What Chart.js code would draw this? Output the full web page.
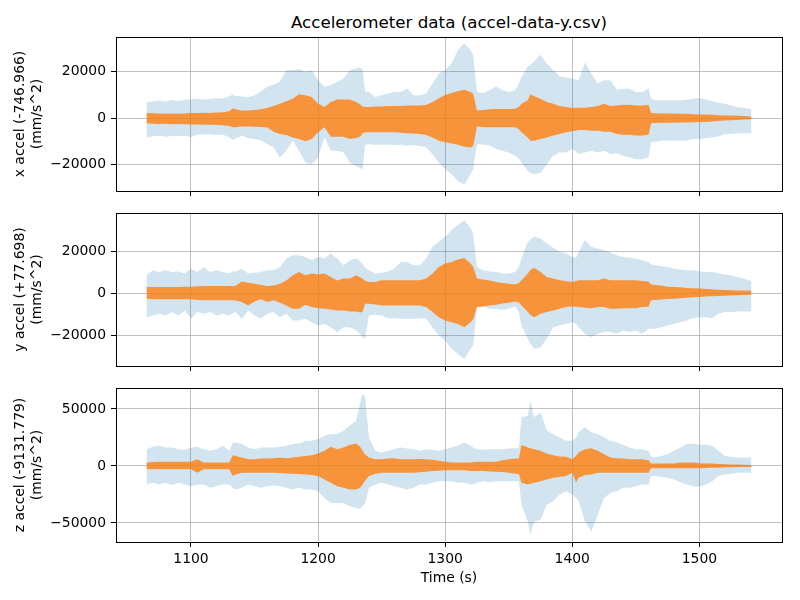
<!DOCTYPE html>
<html lang="en">
<head>
    <meta charset="UTF-8">
    <title>Accelerometer data</title>
    <script src="https://cdn.jsdelivr.net/npm/chart.js"></script>
    <style>
        body { margin: 0; background: #fff; font-family: 'DejaVu Sans', sans-serif; }
        .wrap { position: relative; width: 800px; height: 600px; }
        .wrap canvas { position: absolute; left: 0; top: 0; }
        .main-title {
            position: absolute; left: 116px; width: 666px; top: 12px;
            text-align: center; font-size: 16.7px; line-height: 20px; color: #000;
        }
    </style>
</head>
<body>
<div class="wrap">
    <div class="main-title">Accelerometer data (accel-data-y.csv)</div>
    <canvas id="xChart" width="800" height="600"></canvas>
    <canvas id="yChart" width="800" height="600"></canvas>
    <canvas id="zChart" width="800" height="600"></canvas>
</div>
<script>
// time stamps (s), shared by all three panels
const times = [
    1065, 1070, 1075, 1080, 1085, 1090, 1095, 1100, 1105, 1110,
    1115, 1120, 1125, 1130, 1133, 1135, 1140, 1145, 1150, 1155,
    1160, 1165, 1170, 1175, 1180, 1185, 1190, 1195, 1200, 1205,
    1210, 1215, 1220, 1225, 1230, 1233, 1235, 1237, 1240, 1245,
    1250, 1255, 1260, 1265, 1270, 1275, 1280, 1285, 1290, 1295,
    1300, 1305, 1310, 1315, 1320, 1322, 1325, 1330, 1335, 1340,
    1345, 1350, 1355, 1358, 1360, 1365, 1367, 1370, 1375, 1380,
    1385, 1390, 1395, 1400, 1403, 1405, 1410, 1415, 1420, 1425,
    1430, 1435, 1440, 1445, 1450, 1455, 1460, 1462, 1465, 1470,
    1475, 1480, 1485, 1490, 1495, 1500, 1505, 1510, 1515, 1520,
    1525, 1530, 1535, 1541
];
const timeTicks = [1100, 1200, 1300, 1400, 1500];

// x accel: min/max envelope (blue) and inner band (orange), mm/s^2
const xMaxEnv = [
    7000, 7300, 7600, 7200, 7800, 7400, 7900, 8200, 8400, 8000,
    8300, 8600, 8400, 9500, 10200, 9600, 9300, 9000, 9900, 11500,
    13500, 14500, 15700, 20700, 20700, 21200, 20000, 20700, 16400, 13500,
    14200, 15700, 17100, 20700, 21500, 22000, 21000, 11500, 11300, 9100,
    9900, 10600, 11300, 11300, 12800, 9900, 9900, 10600, 15000, 19300,
    20700, 23600, 29400, 32300, 29400, 27000, 11300, 10900, 12000, 13800,
    12000, 11300, 12000, 15000, 17800, 22200, 23000, 24400, 27300, 23600,
    20700, 18100, 17500, 17100, 16700, 16400, 24000, 19300, 15000, 16400,
    16400, 12300, 12700, 12700, 11300, 11300, 12800, 8400, 7700, 7700,
    7700, 7700, 7700, 7900, 8400, 8700, 8100, 7250, 6700, 6200,
    5500, 4800, 4500, 4000
];
const xMinEnv = [
    -8300, -7800, -7600, -8000, -7700, -7800, -7500, -8200, -7000, -7000,
    -6900, -7300, -7000, -8200, -9500, -8800, -7600, -8500, -9000, -9500,
    -11200, -12600, -17000, -14000, -9700, -14000, -19100, -19900, -17000, -8300,
    -14000, -14000, -14700, -19100, -20600, -21500, -22000, -11500, -11200, -11500,
    -11500, -11500, -11600, -11500, -11900, -11600, -12000, -12500, -15500, -19100,
    -22000, -24200, -27100, -28600, -24200, -22000, -11200, -11300, -11900, -13300,
    -14000, -14800, -16200, -17500, -19100, -22800, -23600, -24200, -23500, -19900,
    -16200, -14800, -14800, -13300, -14500, -15500, -14800, -14000, -14800, -14000,
    -15500, -15200, -16200, -17000, -17700, -17700, -17000, -10400, -10200, -9700,
    -9700, -9700, -9700, -9700, -9000, -9000, -8700, -8300, -7900, -6800,
    -6800, -6500, -6500, -6500
];
const xBandHi = [
    2200, 2100, 2000, 1900, 2000, 1900, 2000, 2200, 2200, 2300,
    2200, 2400, 2600, 3000, 4300, 3800, 3300, 3300, 3500, 3900,
    4350, 5200, 6200, 7300, 8400, 10300, 9900, 9100, 6200, 4800,
    7000, 8100, 8100, 8000, 7000, 6000, 5000, 4800, 4800, 5000,
    5000, 5200, 5300, 5300, 5500, 5500, 5500, 5700, 7000, 8600,
    10000, 10900, 11600, 12300, 11300, 10500, 3300, 3500, 3800, 4000,
    4000, 4000, 4100, 4800, 6200, 7700, 10300, 9400, 8400, 7000,
    6200, 5200, 4800, 4350, 4500, 4500, 4500, 4800, 5200, 6200,
    5200, 5500, 5800, 5800, 5500, 5500, 5800, 2200, 2100, 2000,
    2000, 2000, 1900, 1900, 1700, 1600, 1600, 1500, 1300, 1200,
    1100, 1000, 900, 700
];
const xBandLo = [
    -2200, -2400, -2500, -2400, -2600, -2500, -2600, -2750, -2700, -2800,
    -2800, -2900, -3000, -3400, -3900, -3900, -3600, -3600, -3700, -3800,
    -4000, -5800, -6800, -7250, -8300, -9000, -10000, -9000, -6100, -3900,
    -8000, -8000, -8000, -9000, -8500, -8000, -6500, -6100, -6100, -6100,
    -6100, -6100, -6100, -6300, -6500, -6600, -6800, -7300, -8300, -9700,
    -10400, -10900, -11500, -12300, -12600, -12000, -3600, -3900, -3900, -3900,
    -3900, -3900, -3900, -4800, -6100, -8300, -9700, -9700, -9000, -8300,
    -7500, -6800, -6100, -5650, -5300, -5100, -5100, -5400, -5400, -5800,
    -5800, -6800, -7100, -7200, -7500, -7500, -7200, -2200, -2100, -2000,
    -2000, -2000, -1900, -1900, -1800, -1700, -1600, -1400, -1200, -1000,
    -900, -800, -600, -450
];

// y accel
const yMaxEnv = [
    8450, 10800, 10000, 10800, 10000, 10300, 9250, 11600, 10000, 12400,
    10000, 10800, 10000, 9250, 10300, 10300, 11600, 9250, 9600, 10000,
    10800, 10800, 12400, 16400, 18000, 18000, 17200, 15600, 17200, 16400,
    18800, 16400, 13200, 15600, 16400, 15200, 14000, 12000, 10800, 9250,
    9600, 10300, 11600, 14800, 14800, 13200, 13200, 16400, 22000, 24400,
    26800, 30000, 32400, 34700, 30800, 28000, 12400, 10800, 10300, 10000,
    9250, 9250, 10000, 12500, 16400, 24400, 25500, 26800, 26000, 23600,
    21500, 19600, 18800, 17200, 16800, 19600, 25200, 22000, 21200, 20400,
    19300, 18000, 17200, 16800, 16400, 15600, 14800, 13600, 13200, 12800,
    12400, 11600, 11200, 10800, 10800, 10300, 10000, 10000, 9250, 8800,
    8400, 7650, 6900, 5600
];
const yMinEnv = [
    -11500, -10700, -9900, -10700, -9100, -10700, -8300, -12300, -9100, -9900,
    -9100, -10700, -9900, -10700, -9500, -9100, -12300, -8300, -10700, -12300,
    -9900, -9100, -11500, -9900, -13100, -13100, -12300, -13900, -15500, -14700,
    -16300, -18700, -16300, -16300, -17900, -19500, -21000, -21800, -10700, -10400,
    -10700, -12000, -12000, -12300, -12300, -12300, -12000, -12300, -16300, -20200,
    -22600, -26600, -29000, -31400, -26600, -25000, -6700, -6400, -7500, -7500,
    -8000, -7500, -6400, -9000, -15500, -21800, -24000, -26600, -25800, -21800,
    -16300, -15500, -14700, -13900, -14700, -16300, -19400, -21000, -19400, -18600,
    -18600, -19400, -17800, -18600, -17800, -19400, -17000, -17000, -17000, -16300,
    -15500, -14700, -13900, -13100, -12000, -11500, -11500, -12000, -9900, -9100,
    -9100, -8800, -8800, -8800
];
const yBandHi = [
    2900, 2900, 2900, 2900, 2900, 2900, 3000, 3000, 3200, 3350,
    3350, 3350, 3350, 3350, 3350, 3350, 5500, 4900, 4460, 3800,
    3350, 3600, 4460, 6000, 8450, 10000, 8450, 9250, 8900, 9250,
    7650, 6000, 6850, 6850, 8450, 7500, 6850, 5800, 5260, 5260,
    6050, 6050, 6050, 6050, 6050, 6050, 6050, 6850, 9250, 12400,
    14000, 14800, 15900, 16700, 14000, 12500, 6850, 6400, 5900, 5260,
    4800, 4460, 4000, 4800, 6050, 9250, 11000, 12000, 10000, 7650,
    6850, 6050, 5700, 5260, 5700, 6050, 6050, 6050, 6050, 6850,
    6050, 6050, 6050, 6050, 6050, 5700, 5500, 4000, 3800, 3600,
    3000, 2900, 2700, 2400, 2300, 2100, 1900, 1750, 1600, 1430,
    1300, 1250, 1150, 1100
];
const yBandLo = [
    -2700, -3000, -3000, -3000, -3000, -3000, -3000, -3000, -3300, -3500,
    -3500, -3500, -3500, -3500, -3500, -3600, -4300, -5900, -4000, -3000,
    -4300, -3500, -4600, -5900, -7500, -7500, -5600, -6700, -7200, -7500,
    -7800, -8300, -8300, -8800, -8800, -9300, -9000, -5000, -5100, -5500,
    -5900, -5900, -5900, -5900, -5900, -5900, -5900, -6700, -9100, -11500,
    -13100, -13900, -14700, -16300, -13900, -12500, -6700, -6400, -6000, -5600,
    -5000, -4600, -4000, -4500, -5900, -9100, -10500, -11500, -9900, -9100,
    -8300, -7500, -6700, -6400, -6600, -6700, -7000, -7200, -6700, -6700,
    -7500, -7500, -7200, -7200, -7200, -6700, -6500, -3500, -3300, -3100,
    -2900, -2700, -2500, -2200, -2000, -1900, -1700, -1600, -1400, -1300,
    -1200, -1100, -1000, -800
];

// z accel
const zMaxEnv = [
    14750, 16800, 17700, 16200, 16200, 14750, 13900, 16200, 16800, 14750,
    13300, 14750, 17700, 13300, 20600, 20600, 19200, 16200, 14750, 16200,
    16200, 16200, 16800, 17700, 19200, 19800, 22100, 22100, 23600, 26500,
    28000, 28000, 31000, 35400, 39800, 54600, 63400, 60500, 25000, 13300,
    11800, 13300, 14800, 16200, 15300, 14750, 13300, 14750, 13900, 13300,
    14750, 16200, 17700, 20600, 17700, 16200, 14750, 14200, 14750, 14750,
    14750, 15300, 15600, 15600, 42800, 44000, 57500, 42800, 47200, 31000,
    28000, 25000, 22100, 22100, 25000, 29500, 33900, 29500, 28000, 25000,
    22100, 20600, 18600, 16200, 14750, 14750, 13300, 8000, 7400, 8850,
    10300, 13300, 16200, 19200, 19800, 18600, 18600, 17700, 13300, 8850,
    7900, 7400, 7400, 7400
];
const zMinEnv = [
    -16200, -14750, -16200, -14750, -16800, -14750, -16200, -17700, -16200, -16200,
    -19200, -17700, -16200, -16200, -19200, -20600, -19200, -16200, -17700, -19200,
    -17700, -17100, -17700, -19200, -20600, -19200, -20600, -20600, -22100, -28000,
    -32500, -32500, -32500, -35400, -36900, -37500, -35400, -33000, -19200, -16200,
    -14750, -16200, -17700, -19200, -20600, -19200, -16200, -16200, -14750, -13300,
    -13300, -13300, -14750, -14750, -16200, -16200, -14750, -13300, -14200, -13300,
    -13300, -13300, -13300, -13300, -33900, -48700, -60500, -48700, -47200, -33900,
    -30900, -25000, -22100, -25000, -28000, -30900, -48700, -57500, -42800, -28000,
    -23600, -22100, -19200, -19200, -17700, -16200, -16200, -8850, -8850, -9700,
    -10300, -11800, -14200, -16200, -17700, -18300, -16200, -13300, -8850, -7400,
    -6800, -5900, -5900, -5900
];
const zBandHi = [
    2950, 3500, 3800, 3800, 3800, 3800, 3800, 3800, 5900, 2950,
    2950, 2950, 2950, 2950, 9700, 8850, 7400, 5900, 5900, 6500,
    6500, 6800, 7400, 6800, 7400, 8000, 8850, 9400, 10900, 13300,
    16800, 14750, 16200, 18600, 19800, 17000, 13300, 10000, 7400, 5900,
    5900, 6500, 6800, 5900, 5900, 5900, 6200, 5900, 5500, 4500,
    3800, 2950, 2950, 2950, 2950, 3500, 3800, 3800, 3800, 3800,
    5000, 5900, 6500, 6500, 18500, 16200, 15500, 14750, 13300, 10900,
    9400, 8300, 8000, 5900, 9000, 11800, 14750, 15600, 13300, 10300,
    7400, 6800, 6500, 5900, 5900, 5900, 5000, 2060, 2060, 2060,
    2060, 2060, 2950, 2950, 2950, 2400, 2200, 2060, 1700, 1500,
    1300, 1200, 1100, 900
];
const zBandLo = [
    -2950, -2950, -2950, -2950, -2950, -2950, -2950, -2950, -5900, -2950,
    -2950, -2950, -2950, -2950, -8850, -7400, -5900, -5900, -5900, -5900,
    -5900, -5900, -6200, -6500, -6800, -7100, -7400, -8000, -8850, -11800,
    -14750, -17700, -19200, -20650, -20650, -19200, -16200, -13000, -8850, -6800,
    -5900, -5900, -5900, -5900, -5900, -5900, -5500, -5000, -4500, -4200,
    -3800, -3800, -3800, -3800, -4400, -4400, -4400, -4400, -4800, -5000,
    -5300, -5900, -6800, -7000, -14750, -16200, -15500, -14750, -13300, -11800,
    -10300, -9700, -8850, -5900, -14200, -10300, -8000, -7400, -5900, -5900,
    -5900, -5900, -5900, -5900, -5900, -5900, -5900, -2060, -2060, -2060,
    -2060, -2060, -2060, -2060, -2060, -2060, -1800, -1500, -1500, -1200,
    -1100, -1000, -950, -900
];

const xAccelTicks = [-20000, 0, 20000];
const yAccelTicks = [-20000, 0, 20000];
const zAccelTicks = [-50000, 0, 50000];

Chart.defaults.font.family = "'DejaVu Sans', sans-serif";
Chart.defaults.font.size = 13.9;
Chart.defaults.color = '#000';

const blueFill = 'rgba(31, 119, 180, 0.2)';
const orangeFill = 'rgba(255, 127, 14, 0.8)';

// matplotlib-style box around the axes
const frame = {
    id: 'frame',
    afterDraw(chart) {
        const a = chart.chartArea;
        const ctx = chart.ctx;
        ctx.save();
        ctx.strokeStyle = '#000';
        ctx.lineWidth = 1;
        ctx.strokeRect(Math.round(a.left) + 0.5, Math.round(a.top) + 0.5,
            Math.round(a.right - a.left), Math.round(a.bottom - a.top));
        ctx.restore();
    }
};

const minus = v => (v < 0 ? '\u2212' + Math.abs(v) : String(v));

function panel(id, p) {
    const pts = arr => times.map((t, i) => ({ x: t, y: arr[i] }));
    const band = (arr, fill, color) => ({
        data: pts(arr),
        fill: fill,
        backgroundColor: color,
        borderColor: 'rgba(0,0,0,0)',
        borderWidth: 0,
        pointRadius: 0,
        tension: 0
    });
    new Chart(document.getElementById(id), {
        type: 'line',
        data: {
            datasets: [
                band(p.bandLo, false, orangeFill),
                band(p.bandHi, 0, orangeFill),
                band(p.minEnv, false, blueFill),
                band(p.maxEnv, 2, blueFill)
            ]
        },
        options: {
            responsive: false,
            animation: false,
            events: [],
            layout: { padding: { top: p.top, right: 18, left: 0, bottom: 0 } },
            plugins: { legend: { display: false }, tooltip: { enabled: false } },
            scales: {
                x: {
                    type: 'linear',
                    min: 1041,
                    max: 1565,
                    z: 1,
                    afterBuildTicks: s => { s.ticks = timeTicks.map(v => ({ value: v })); },
                    afterFit: s => { s.height = 600 - p.bottom; },
                    grid: { color: '#b0b0b0', lineWidth: 0.8, tickLength: 5, tickColor: '#000', tickWidth: 1 },
                    border: { color: '#000', width: 1 },
                    ticks: { display: p.showX, padding: 4, maxRotation: 0, callback: v => String(v) },
                    title: { display: p.showX, text: 'Time (s)', padding: { top: 0, bottom: 13 } }
                },
                y: {
                    min: p.yMin,
                    max: p.yMax,
                    z: 1,
                    afterBuildTicks: s => { s.ticks = p.ticks.map(v => ({ value: v })); },
                    afterFit: s => { s.width = 116; },
                    grid: { color: '#b0b0b0', lineWidth: 0.8, tickLength: 5, tickColor: '#000', tickWidth: 1 },
                    border: { color: '#000', width: 1 },
                    ticks: { padding: 5, callback: minus },
                    title: { display: true, text: [p.label, '(mm/s^2)'], padding: { top: 12 } }
                }
            }
        },
        plugins: [frame]
    });
}

panel('xChart', {
    top: 37, bottom: 191, yMin: -31400, yMax: 35000, ticks: xAccelTicks, showX: false,
    label: 'x accel (-746.966)', maxEnv: xMaxEnv, minEnv: xMinEnv, bandHi: xBandHi, bandLo: xBandLo
});
panel('yChart', {
    top: 213, bottom: 366, yMin: -34760, yMax: 38100, ticks: yAccelTicks, showX: false,
    label: 'y accel (+77.698)', maxEnv: yMaxEnv, minEnv: yMinEnv, bandHi: yBandHi, bandLo: yBandLo
});
panel('zChart', {
    top: 388, bottom: 542, yMin: -66700, yMax: 68400, ticks: zAccelTicks, showX: true,
    label: 'z accel (-9131.779)', maxEnv: zMaxEnv, minEnv: zMinEnv, bandHi: zBandHi, bandLo: zBandLo
});
</script>
</body>
</html>
